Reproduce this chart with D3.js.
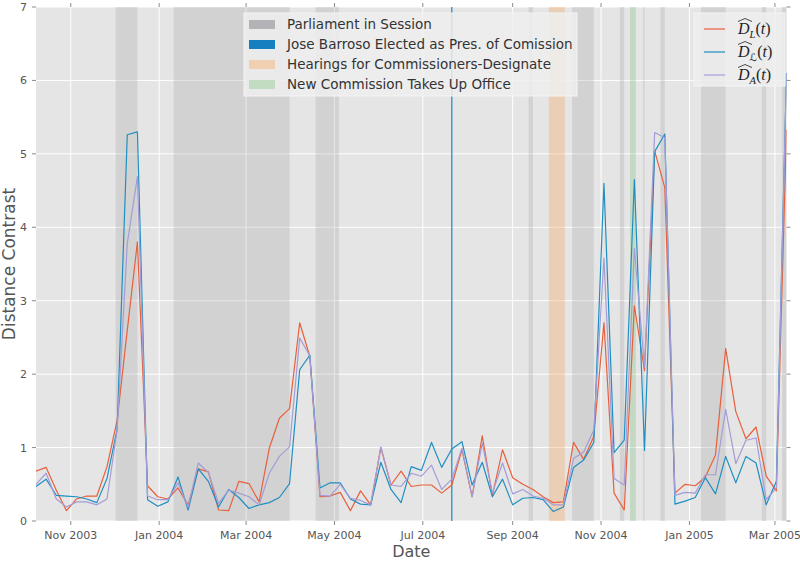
<!DOCTYPE html>
<html><head><meta charset="utf-8">
<script src="https://cdn.jsdelivr.net/npm/d3@7"></script>
<style>body{margin:0;background:#fff}svg{display:block}</style>
</head><body><svg id="c" width="800" height="562"></svg>
<script>
// ---------- data ----------
const dates = [
"2003-10-08","2003-10-15","2003-10-22","2003-10-29","2003-11-05","2003-11-12","2003-11-19","2003-11-26",
"2003-12-03","2003-12-10","2003-12-17","2003-12-24","2003-12-31",
"2004-01-07","2004-01-14","2004-01-21","2004-01-28","2004-02-04","2004-02-11","2004-02-18","2004-02-25",
"2004-03-03","2004-03-10","2004-03-17","2004-03-24","2004-03-31","2004-04-07","2004-04-14","2004-04-21","2004-04-28",
"2004-05-05","2004-05-12","2004-05-19","2004-05-26","2004-06-02","2004-06-09","2004-06-16","2004-06-23","2004-06-30",
"2004-07-07","2004-07-14","2004-07-21","2004-07-28","2004-08-04","2004-08-11","2004-08-18","2004-08-25",
"2004-09-01","2004-09-08","2004-09-15","2004-09-22","2004-09-29","2004-10-06","2004-10-13","2004-10-20","2004-10-27",
"2004-11-03","2004-11-10","2004-11-17","2004-11-24","2004-12-01","2004-12-08","2004-12-15","2004-12-22","2004-12-29",
"2005-01-05","2005-01-12","2005-01-19","2005-01-26","2005-02-02","2005-02-09","2005-02-16","2005-02-23","2005-03-02","2005-03-09"];

const seriesL = [0.68,0.73,0.42,0.14,0.30,0.34,0.34,0.74,1.37,2.60,3.80,0.48,0.33,0.30,0.45,0.22,0.71,0.67,0.15,0.14,
0.54,0.51,0.26,0.99,1.40,1.53,2.70,2.24,0.33,0.34,0.39,0.14,0.41,0.22,1.00,0.49,0.68,0.47,0.49,0.49,
0.38,0.49,0.97,0.33,1.16,0.35,0.97,0.59,0.50,0.43,0.33,0.25,0.26,1.07,0.84,1.15,2.70,0.38,0.15,2.93,
2.05,5.04,4.54,0.38,0.50,0.48,0.60,0.90,2.35,1.49,1.12,1.28,0.61,0.41,5.33];

const seriesC = [0.47,0.57,0.35,0.34,0.33,0.30,0.25,0.58,1.25,5.26,5.30,0.29,0.20,0.26,0.60,0.15,0.71,0.54,0.19,0.43,
0.32,0.17,0.22,0.25,0.32,0.51,2.06,2.26,0.45,0.52,0.52,0.30,0.23,0.22,0.80,0.43,0.25,0.74,0.69,1.07,
0.73,0.98,1.08,0.49,0.80,0.33,0.57,0.22,0.31,0.32,0.29,0.13,0.19,0.73,0.83,1.07,4.60,0.93,1.10,4.65,
0.96,5.03,5.27,0.23,0.27,0.32,0.59,0.37,0.88,0.52,0.88,0.79,0.22,0.54,6.10];

const seriesA = [0.50,0.65,0.30,0.19,0.26,0.26,0.22,0.30,1.24,3.78,4.69,0.34,0.29,0.29,0.52,0.19,0.79,0.66,0.24,0.42,
0.38,0.33,0.22,0.65,0.88,1.01,2.49,2.25,0.35,0.34,0.50,0.31,0.28,0.22,1.01,0.49,0.47,0.65,0.61,0.76,
0.43,0.57,0.99,0.33,1.06,0.38,0.79,0.37,0.43,0.34,0.31,0.22,0.22,0.85,0.94,1.24,3.58,0.58,0.49,3.71,
2.10,5.29,5.22,0.35,0.39,0.38,0.63,0.63,1.52,0.78,1.10,1.13,0.29,0.45,6.10];

const yTicks = [0,1,2,3,4,5,6,7];

const parliamentSessions = [
["2003-12-02","2003-12-17"],["2004-01-11","2004-03-31"],["2004-04-18","2004-05-04"],
["2004-09-12","2004-09-15"],["2004-10-12","2004-10-27"],["2004-11-14","2004-11-17"],
["2004-11-30","2004-12-01"],["2004-12-12","2004-12-15"],["2005-01-09","2005-01-26"],
["2005-02-20","2005-02-23"],["2005-03-06","2005-03-09"]];
const barrosoElected = "2004-07-21";
const hearings = [["2004-09-26","2004-10-07"]];
const newCommission = [["2004-11-21","2004-11-25"]];

const eventLabels = ["Parliament in Session","Jose Barroso Elected as Pres. of Comission",
  "Hearings for Commissioners-Designate","New Commission Takes Up Office"];
const seriesSubs = ["L","\u2112","A"];

// ---------- drawing ----------
const svg = d3.select("#c");
const M = {l:36, r:786.5, t:7, b:521};
const parse = d3.timeParse("%Y-%m-%d");
const X = d3.scaleTime().domain([parse(dates[0]), parse(dates[dates.length-1])]).range([M.l, M.r]);
const Y = d3.scaleLinear().domain([0,7]).range([M.b, M.t]);
const gray = "#555555";

svg.append("rect").attr("x",M.l).attr("y",M.t).attr("width",M.r-M.l).attr("height",M.b-M.t).attr("fill","#E5E5E5");

const xt = X.ticks(d3.timeMonth.every(2));
const grid = svg.append("g").attr("stroke","#ffffff").attr("stroke-width",1);
grid.selectAll(".gx").data(xt).join("line").attr("x1",d=>X(d)).attr("x2",d=>X(d)).attr("y1",M.t).attr("y2",M.b);
grid.selectAll(".gy").data(yTicks).join("line").attr("x1",M.l).attr("x2",M.r).attr("y1",d=>Y(d)).attr("y2",d=>Y(d));

svg.append("clipPath").attr("id","clip").append("rect").attr("x",M.l).attr("y",M.t).attr("width",M.r-M.l).attr("height",M.b-M.t);
const plot = svg.append("g").attr("clip-path","url(#clip)");

function spans(arr, color, op){
  plot.append("g").selectAll("rect").data(arr).join("rect")
    .attr("x",d=>X(parse(d[0]))).attr("width",d=>X(parse(d[1]))-X(parse(d[0])))
    .attr("y",M.t).attr("height",M.b-M.t).attr("fill",color).attr("fill-opacity",op);
}
spans(parliamentSessions,"#9a9a9a",0.25);
spans(hearings,"#f5a050",0.32);
spans(newCommission,"#7cc07c",0.32);
plot.append("line").attr("x1",X(parse(barrosoElected))).attr("x2",X(parse(barrosoElected)))
  .attr("y1",M.t).attr("y2",M.b).attr("stroke","#1a86c2").attr("stroke-width",1.2);

const colors = ["#E8603C","#1f8fc2","#a49cd8"];
const seriesAll = [seriesL, seriesC, seriesA];
const line = d3.line().x((d,i)=>X(parse(dates[i]))).y(d=>Y(d));
seriesAll.forEach((s,k)=>{
  plot.append("path").datum(s).attr("d",line).attr("fill","none")
    .attr("stroke",colors[k]).attr("stroke-width",1.2).attr("stroke-linejoin","round");
});

// axes ticks
const tk = svg.append("g").attr("stroke","#8c8c8c").attr("stroke-width",1);
tk.selectAll(".b").data(xt).join("line").attr("x1",d=>X(d)).attr("x2",d=>X(d)).attr("y1",M.b).attr("y2",M.b+4);
tk.selectAll(".t").data(xt).join("line").attr("x1",d=>X(d)).attr("x2",d=>X(d)).attr("y1",M.t-4).attr("y2",M.t);
tk.selectAll(".l").data(yTicks).join("line").attr("x1",M.l-4).attr("x2",M.l).attr("y1",d=>Y(d)).attr("y2",d=>Y(d));
tk.selectAll(".r").data(yTicks).join("line").attr("x1",M.r).attr("x2",M.r+4).attr("y1",d=>Y(d)).attr("y2",d=>Y(d));

const fmt = d3.timeFormat("%b %Y");
svg.append("g").selectAll("text").data(xt).join("text")
  .attr("x",d=>X(d)).attr("y",539).attr("text-anchor","middle")
  .attr("font-family","DejaVu Sans").attr("font-size",11).attr("fill",gray).text(d=>fmt(d));
svg.append("g").selectAll("text").data(yTicks).join("text")
  .attr("x",M.l-9).attr("y",d=>Y(d)+4).attr("text-anchor","end")
  .attr("font-family","DejaVu Sans").attr("font-size",11).attr("fill",gray).text(d=>d);

svg.append("text").attr("x",(M.l+M.r)/2).attr("y",557).attr("text-anchor","middle")
  .attr("font-family","DejaVu Sans").attr("font-size",16).attr("fill",gray).text("Date");
svg.append("text").attr("transform",`translate(15,${(M.t+M.b)/2}) rotate(-90)`).attr("text-anchor","middle")
  .attr("font-family","DejaVu Sans").attr("font-size",17).attr("fill",gray).text("Distance Contrast");

// legend 1 (events)
const lg = svg.append("g");
lg.append("rect").attr("x",244).attr("y",13).attr("width",333).attr("height",83)
  .attr("fill","#eeeeee").attr("fill-opacity",0.85).attr("stroke","#f4f4f4").attr("stroke-width",1);
const patchCols = ["#b3b3b7","#1580c0","#f0d0b0","#c2dcc2"];
eventLabels.forEach((t,i)=>{
  const yy = 24 + i*20;
  lg.append("rect").attr("x",249).attr("y",yy-4).attr("width",26).attr("height",9).attr("fill",patchCols[i]);
  lg.append("text").attr("x",287).attr("y",yy+5).attr("font-family","DejaVu Sans").attr("font-size",13.5)
    .attr("fill","#333").text(t);
});

// legend 2 (series)
const lg2 = svg.append("g");
lg2.append("rect").attr("x",694).attr("y",13).attr("width",91).attr("height",73)
  .attr("fill","#eeeeee").attr("fill-opacity",0.85).attr("stroke","#f4f4f4").attr("stroke-width",1);
seriesSubs.forEach((s,i)=>{
  const yy = 29 + i*23;
  lg2.append("line").attr("x1",704).attr("x2",725).attr("y1",yy).attr("y2",yy).attr("stroke",colors[i]).attr("stroke-width",1.2);
  const t = lg2.append("text").attr("x",738).attr("y",yy+5).attr("font-family","Liberation Serif, DejaVu Serif")
    .attr("font-size",16).attr("fill","#222");
  t.append("tspan").attr("font-style","italic").text("D");
  const sub = t.append("tspan").attr("font-size",10.5).attr("dy",3.5).text(s);
  if (s === "\u2112") sub.attr("font-family","DejaVu Sans").attr("font-style","normal");
  else sub.attr("font-style","italic");
  t.append("tspan").attr("dy",-3.5).text("(");
  t.append("tspan").attr("font-style","italic").text("t");
  t.append("tspan").text(")");
  lg2.append("path").attr("d",`M738,${yy-7.5} L745,${yy-10.5} L752,${yy-7.5}`).attr("fill","none")
    .attr("stroke","#222").attr("stroke-width",0.8);
});
</script></body></html>
